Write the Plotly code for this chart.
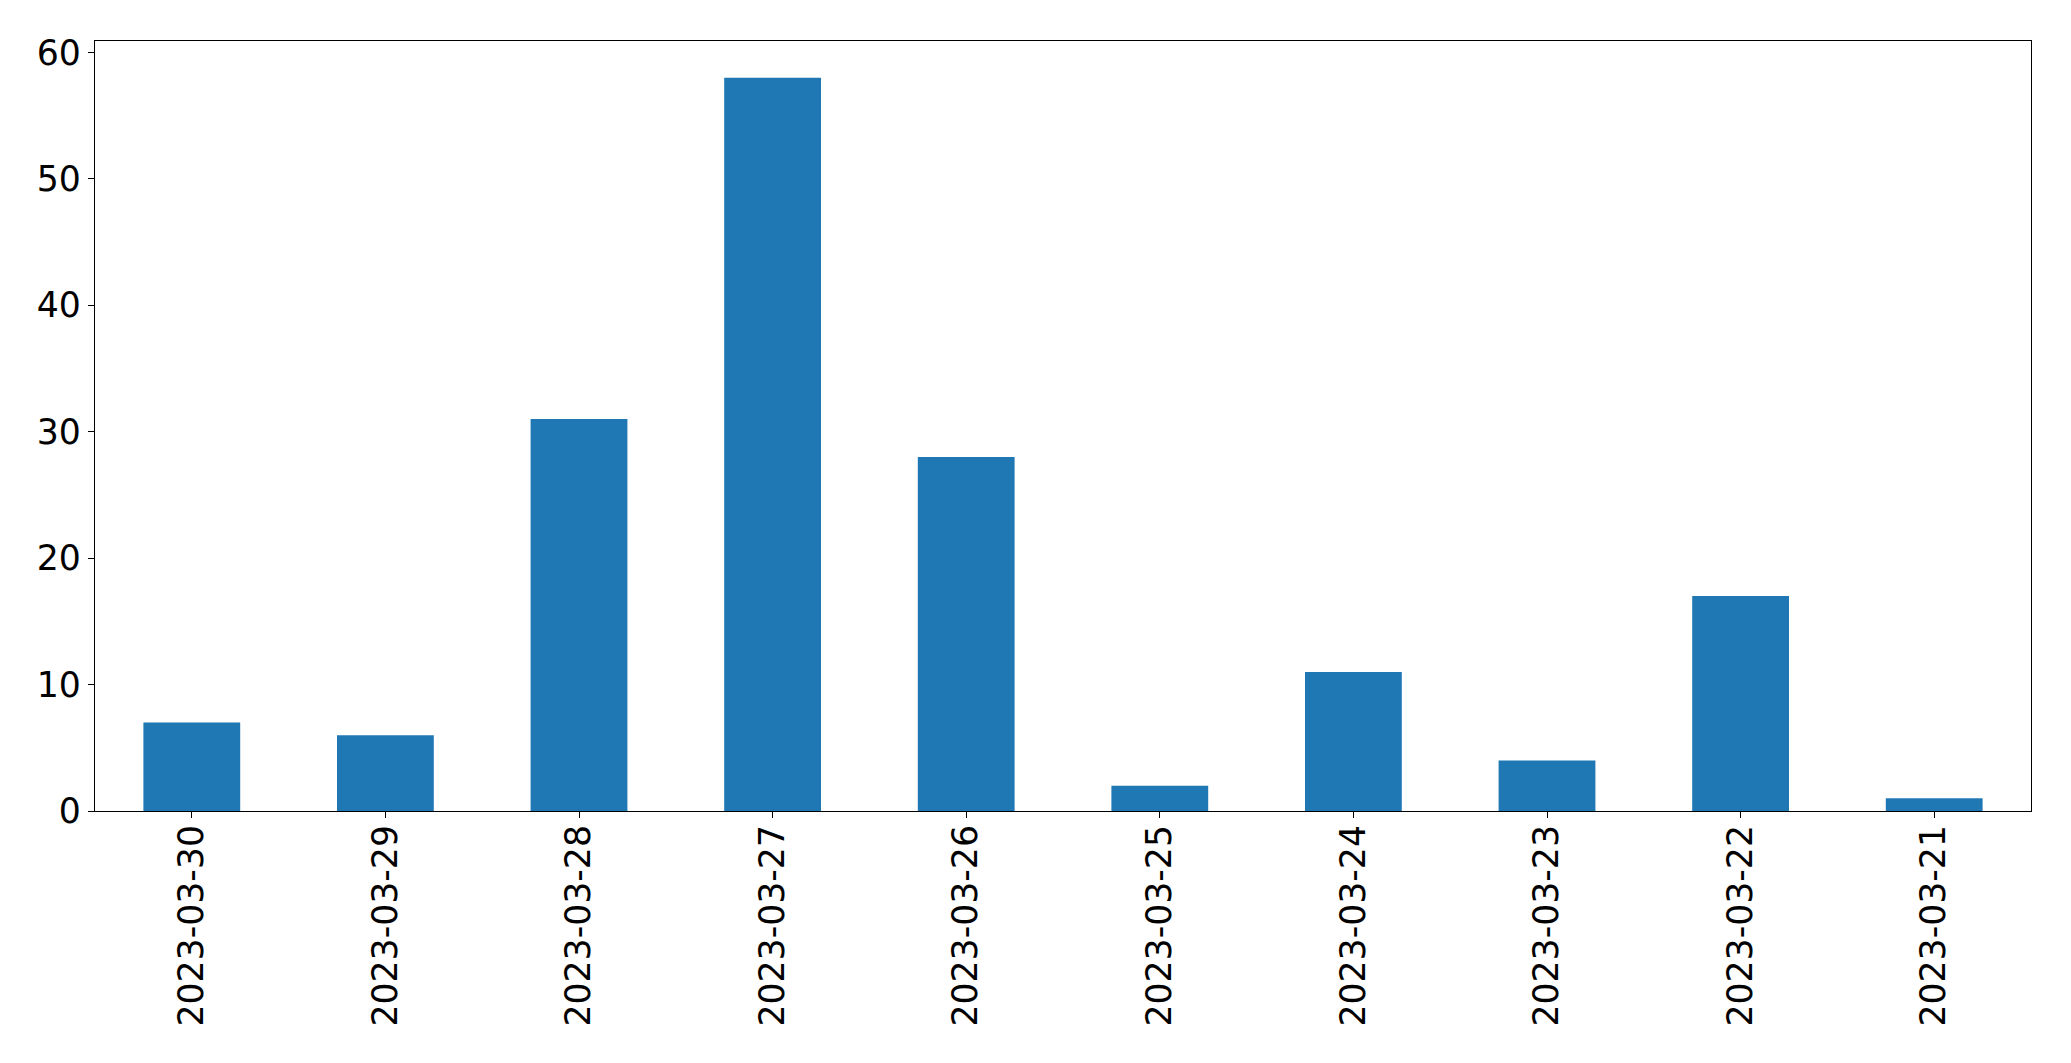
import plotly.graph_objects as go

dates = ["2023-03-30", "2023-03-29", "2023-03-28", "2023-03-27", "2023-03-26",
         "2023-03-25", "2023-03-24", "2023-03-23", "2023-03-22", "2023-03-21"]
counts = [7, 6, 31, 58, 28, 2, 11, 4, 17, 1]
y_ticks = [0, 10, 20, 30, 40, 50, 60]

fig = go.Figure(go.Bar(x=dates, y=counts, width=0.5, marker_color="#1f77b4",
                       marker_line_width=0))

axis_common = dict(showline=True, linecolor="black", linewidth=1.3, mirror=True,
                   ticks="outside", ticklen=6, tickwidth=1.3, tickcolor="black",
                   showgrid=False, zeroline=False,
                   tickfont=dict(family="DejaVu Sans", size=34.7, color="black"))

fig.update_xaxes(type="category", range=[-0.5, 9.5], tickangle=-90,
                 ticklabelstandoff=-7, **axis_common)
fig.update_yaxes(range=[0, 60.9], tickvals=y_ticks, **axis_common)

fig.update_layout(width=2063, height=1055, plot_bgcolor="white", paper_bgcolor="white",
                  margin=dict(l=87, r=40, t=33, b=252, autoexpand=False), showlegend=False)

fig.write_html("out.html")
